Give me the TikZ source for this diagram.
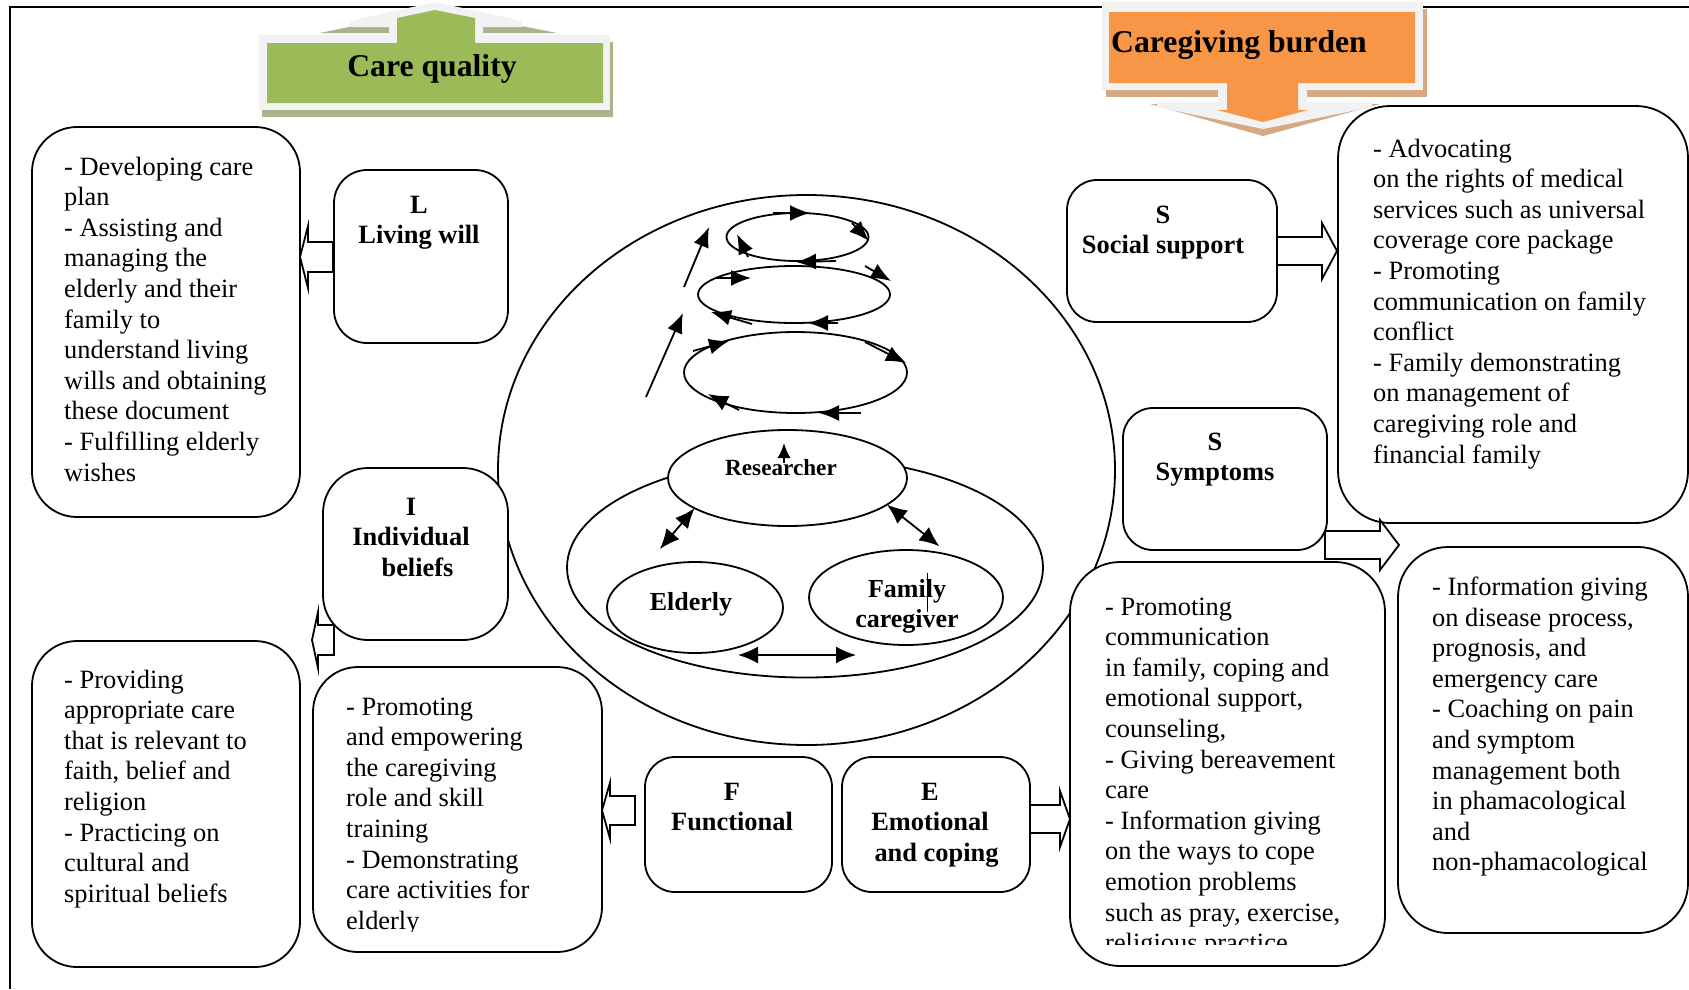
\documentclass[tikz,border=0pt]{standalone}
\usepackage{fontspec}
\setmainfont{Liberation Serif}
\usetikzlibrary{shapes.geometric,arrows.meta}

\definecolor{cqgreen}{HTML}{9BBB59}
\definecolor{cqshade}{HTML}{A9B48F}
\definecolor{cborange}{HTML}{F79646}
\definecolor{cbshade}{HTML}{D4A984}
\definecolor{bannerrim}{HTML}{F2F2F2}

% stacked lines, baseline on the first line
\newcommand\lstack[1]{\begin{tabular}[t]{@{}l@{}}#1\end{tabular}}
\newcommand\cstack[1]{\begin{tabular}[t]{@{}c@{}}#1\end{tabular}}

% hollow block arrow: tip x, back x, mid y, stem half width, head half width, head length
\newcommand\hollowarrow[6]{%
  \pgfmathsetmacro\hx{#1+(#2-#1)/abs(#2-#1)*#6}%
  \draw[blockarrow] (#2,#3-#4) -- (\hx,#3-#4) -- (\hx,#3-#5) -- (#1,#3)
    -- (\hx,#3+#5) -- (\hx,#3+#4) -- (#2,#3+#4) -- cycle;}

\begin{document}
\begin{tikzpicture}[x=1pt,y=-1pt,
  box/.style={draw, line width=1.8pt, fill=white, rounded corners=#1,
    inner sep=0pt, outer sep=0pt, anchor=north west},
  box/.default=30pt,
  txt/.style={font=\fontsize{26.4}{30.6}\selectfont, inner sep=0pt, anchor=base west},
  lbl/.style={font=\bfseries\fontsize{26.4}{30.6}\selectfont, inner sep=0pt, anchor=base},
  oval/.style={draw, ellipse, line width=1.8pt, inner sep=0pt, outer sep=0pt},
  blockarrow/.style={draw, fill=white, line width=1.8pt, line join=miter},
  flow/.style={line width=1.8pt, -{Latex[length=20pt,width=16pt]}},
  both/.style={line width=1.8pt, {Latex[length=20pt,width=17pt]}-{Latex[length=20pt,width=17pt]}},
  banner/.style={font=\bfseries\fontsize{31.7}{36}\selectfont, inner sep=0pt},
]
\useasboundingbox (0,0) rectangle (1689,989);

% frame
\draw[line width=2.5pt] (1689,7) -- (10,7) -- (10,989);

% banner: care quality (up arrow)
\fill[cqshade] (262,42) rectangle (613,117);
\fill[cqshade] (320,33) -- (435,9) -- (557,33) -- cycle;
\fill[bannerrim] (259,35) rectangle (610,110);
\fill[bannerrim] (389,35) -- (389,27) -- (350,27) -- (350,21) -- (435,2)
  -- (522,21) -- (522,27) -- (483,27) -- (483,35) -- cycle;
\fill[cqgreen] (267,43) -- (397,43) -- (397,18) -- (435,10) -- (475,18)
  -- (475,43) -- (603,43) -- (603,103) -- (267,103) -- cycle;
\node[banner, anchor=base] (cq) at (432,76) {Care quality};

% banner: caregiving burden (down arrow)
\fill[cbshade] (1106,9) rectangle (1427,97);
\fill[cbshade] (1150,104) -- (1380,104) -- (1263,136) -- cycle;
\fill[bannerrim] (1102,2) rectangle (1423,90);
\fill[bannerrim] (1218,90) -- (1218,102) -- (1157,102) -- (1157,107) -- (1263,129)
  -- (1372,107) -- (1372,102) -- (1307,102) -- (1307,90) -- cycle;
\fill[cborange] (1109,12) -- (1415,12) -- (1415,83) -- (1298,83) -- (1298,110)
  -- (1308,110) -- (1263,122) -- (1217,110) -- (1227,110) -- (1227,83)
  -- (1109,83) -- cycle;
\node[banner, anchor=base west] (cb) at (1111,52) {Caregiving burden};

% central circle with the care triad
\node[oval, minimum width=617pt, minimum height=550pt] (big) at (806.5,470) {};
\node[oval, minimum width=476pt, minimum height=220pt] (grp) at (805,567.5) {};
\node[oval, fill=white, minimum width=239pt, minimum height=96pt] (res) at (787.5,478) {};
\node[oval, minimum width=176pt, minimum height=91pt] (eld) at (695,607.5) {};
\node[oval, minimum width=194pt, minimum height=95pt] (fam) at (906,597.5) {};
\node[font=\bfseries\fontsize{23.2}{28}\selectfont, inner sep=0pt, anchor=base] (resl) at (781,475) {Researcher};
\node[font=\bfseries\fontsize{26}{30}\selectfont, inner sep=0pt, anchor=base] (eldl) at (691,610) {Elderly};
\node[font=\bfseries\fontsize{26}{30}\selectfont, inner sep=0pt, anchor=base] (faml) at (907,597) {\cstack{Family\\caregiver}};
\draw[line width=1pt] (927,573) -- (927,612);

\draw[both] (res.198) -- ([shift={(-9,-15)}]eld.121);
\draw[both] (res.345) -- ([shift={(4,-6)}]fam.57);
\draw[both] ([shift={(43,2)}]eld.south) -- ([shift={(-50,10)}]fam.south);
\draw[flow, -{Latex[length=15pt,width=13pt]}] ([shift={(-3.5,-15)}]res.center) -- ([shift={(-3.5,-35)}]res.center);

% rising spiral
\node[oval, minimum width=142pt, minimum height=48pt] (sp1) at (797.5,237) {};
\node[oval, minimum width=192pt, minimum height=57pt] (sp2) at (794,294.5) {};
\node[oval, minimum width=223pt, minimum height=81pt] (sp3) at (795.5,372.5) {};
\coordinate (up1) at (646,397);
\coordinate (up2) at (683,313);
\coordinate (up3) at (684,287);
\coordinate (up4) at (709,227);
\draw[flow] (up1) -- (up2);
\draw[flow] (up3) -- (up4);
\draw[flow] (773,213) -- (810,213);
\draw[flow] (852,223) -- (869,241);
\draw[flow] (748,257) -- (737,234);
\draw[flow] (836,261) -- (796,262);
\draw[flow] (865,266) -- (891,281);
\draw[flow] (715,278) -- (751,278);
\draw[flow] (752,324) -- (711,312);
\draw[flow] (838,323) -- (808,323);
\draw[flow] (693,351) -- (729,341);
\draw[flow] (865,342) -- (906,363);
\draw[flow] (739,410) -- (708,394);
\draw[flow] (861,413) -- (819,413);

% left column
\node[box=45pt, minimum width=268pt, minimum height=390pt] (plan) at (32,127) {};
\node[txt] (plant) at (64,175) {\lstack{- Developing care\\plan\\- Assisting and\\managing the\\elderly and their\\family to\\understand living\\wills and obtaining\\these document\\- Fulfilling elderly\\wishes}};

\node[box=33pt, minimum width=174pt, minimum height=173pt] (lw) at (334,170) {};
\node[lbl] (lwl) at (419,213) {\cstack{L\\Living will}};

\node[box=45pt, minimum width=185pt, minimum height=172pt] (ib) at (323,468) {};
\node[lbl] (ibl) at (411,515) {\cstack{I\\Individual\\\hspace*{13pt}beliefs}};

\node[box=45pt, minimum width=268pt, minimum height=326pt] (faith) at (32,641) {};
\node[txt] (faitht) at (64,688) {\lstack{- Providing\\appropriate care\\that is relevant to\\faith, belief and\\religion\\- Practicing on\\cultural and\\spiritual beliefs}};

\node[box=45pt, minimum width=289pt, minimum height=285pt] (ft) at (313,667) {};
\begin{scope}
  \clip (313,667) rectangle (602,931);
  \node[txt] (ftt) at (346,715) {\lstack{- Promoting\\and empowering\\the caregiving\\role and skill\\training\\- Demonstrating\\care activities for\\elderly}};
\end{scope}

% bottom middle
\node[box=30pt, minimum width=187pt, minimum height=135pt] (fn) at (645,757) {};
\node[lbl] (fnl) at (732,800) {\cstack{F\\Functional}};
\node[box=30pt, minimum width=188pt, minimum height=135pt] (em) at (842,757) {};
\node[lbl] (eml) at (930,800) {\cstack{E\\Emotional\\\hspace*{13pt}and coping}};

% right side
\node[box=50pt, minimum width=315pt, minimum height=404pt] (et) at (1070,562) {};
\begin{scope}
  \clip (1070,562) rectangle (1385,944);
  \node[txt] (ett) at (1105,615) {\lstack{- Promoting\\communication\\in family, coping and\\emotional support,\\counseling,\\- Giving bereavement\\care\\- Information giving\\on the ways to cope\\emotion problems\\such as pray, exercise,\\religious practice}};
\end{scope}

\node[box=30pt, minimum width=210pt, minimum height=142pt] (ss) at (1067,180) {};
\node[lbl] (ssl) at (1163,223) {\cstack{S\\Social support}};

\node[box=30pt, minimum width=204pt, minimum height=142pt] (sy) at (1123,408) {};
\node[lbl] (syl) at (1215,450) {\cstack{S\\Symptoms}};

\node[box=52pt, minimum width=350pt, minimum height=417pt] (adv) at (1338,106) {};
\node[txt] (advt) at (1373,157) {\lstack{- Advocating\\on the rights of medical\\services such as universal\\coverage core package\\- Promoting\\communication on family\\conflict\\- Family demonstrating\\on management of\\caregiving role and\\financial family}};

\node[box=50pt, minimum width=290pt, minimum height=386pt] (info) at (1398,547) {};
\node[txt] (infot) at (1432,595.5) {\lstack{- Information giving\\on disease process,\\prognosis, and\\emergency care\\- Coaching on pain\\and symptom\\management both\\in phamacological\\and\\non-phamacological}};

% hollow arrows from each domain to its interventions
\hollowarrow{300}{333}{257}{15}{31}{8}
\hollowarrow{312}{334}{640}{15}{28}{6}
\hollowarrow{602}{635}{810.5}{14.5}{28}{8}
\hollowarrow{1070}{1030}{819}{14}{28}{10}
\hollowarrow{1337}{1277}{251}{14}{28}{15}
\hollowarrow{1399}{1325}{545}{14}{25}{19}
\end{tikzpicture}
\end{document}
